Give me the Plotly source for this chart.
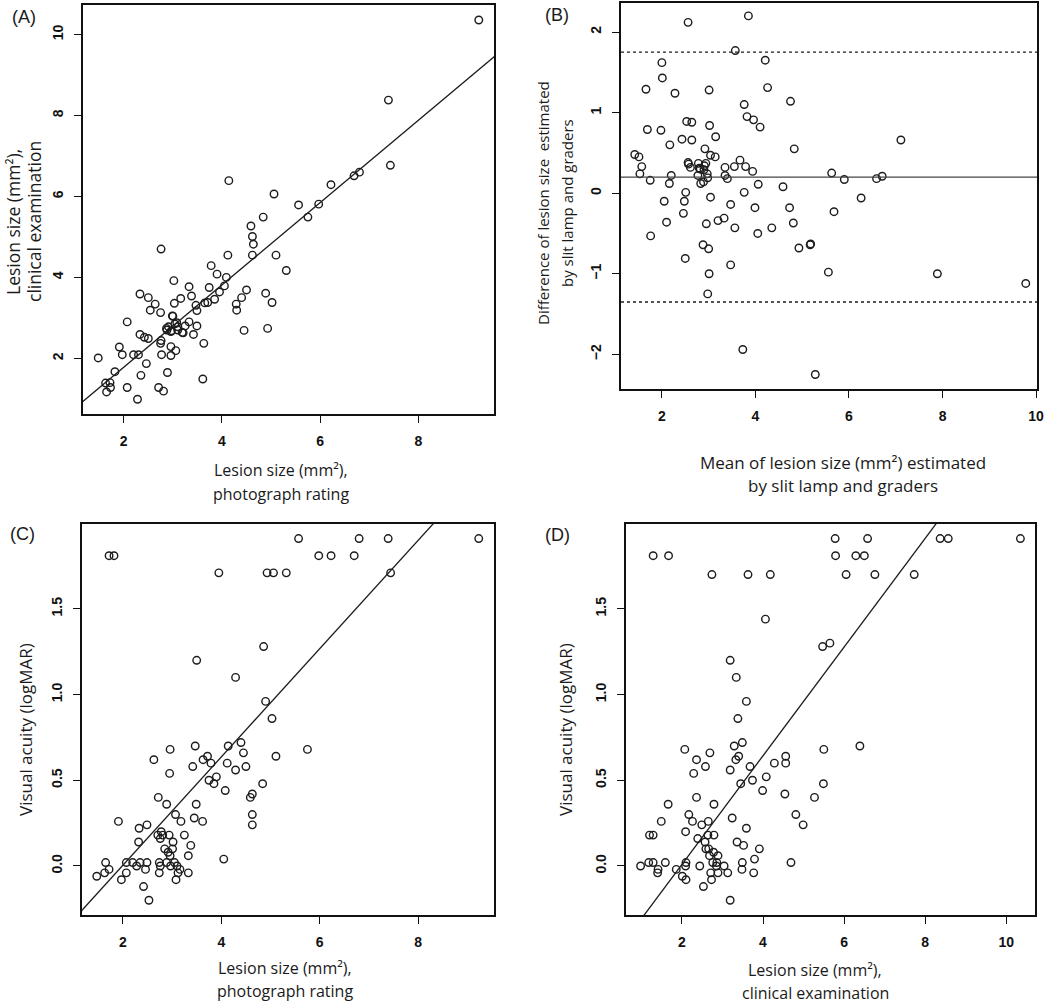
import plotly.graph_objects as go

# ---------------- Data ----------------
# Panel A: photograph rating (x) vs clinical examination (y)
a_x = [9.23, 7.39, 7.43, 6.80, 6.69, 6.22, 5.97, 5.56, 5.75, 5.06, 4.14, 4.84, 4.59, 4.62, 4.64,
       4.62, 5.10, 4.12, 5.31, 3.78, 3.90, 4.09, 4.05, 3.95, 3.74, 3.85, 3.71, 3.33, 3.38, 3.16,
       3.02, 3.03, 2.76, 2.33, 2.50, 2.64, 2.54, 2.75, 2.99, 3.47, 3.49, 4.50, 4.40, 4.29, 4.30,
       4.89, 5.02, 4.45, 4.93, 2.07, 3.33, 3.49, 3.25, 3.08, 3.10, 2.91, 2.87, 2.96, 3.19, 3.10,
       3.42, 3.63, 2.33, 2.42, 2.50, 2.76, 2.75, 2.96, 3.06, 2.96, 2.77, 1.91, 1.97, 2.20, 2.30,
       1.48, 2.46, 1.82, 2.89, 2.35, 3.61, 1.63, 1.72, 1.73, 2.07, 2.71, 1.65, 2.81, 2.28, 3.00,
       2.97, 3.21, 3.65, 2.88, 3.04]
a_y = [10.36, 8.38, 6.77, 6.60, 6.51, 6.29, 5.81, 5.79, 5.49, 6.06, 6.39, 5.49, 5.27, 5.01, 4.82,
       4.55, 4.55, 4.55, 4.17, 4.29, 4.08, 4.00, 3.79, 3.64, 3.75, 3.46, 3.38, 3.77, 3.54, 3.48,
       3.92, 3.36, 4.70, 3.59, 3.50, 3.34, 3.19, 3.13, 3.05, 3.31, 3.18, 3.69, 3.50, 3.34, 3.19,
       3.61, 3.38, 2.69, 2.74, 2.90, 2.90, 2.80, 2.80, 2.88, 2.78, 2.78, 2.74, 2.66, 2.64, 2.70,
       2.59, 2.37, 2.59, 2.52, 2.49, 2.44, 2.37, 2.29, 2.19, 2.07, 2.09, 2.28, 2.09, 2.09, 2.09,
       2.01, 1.87, 1.67, 1.65, 1.58, 1.49, 1.39, 1.40, 1.28, 1.28, 1.28, 1.17, 1.19, 0.99, 3.04,
       2.68, 2.63, 3.37, 2.70, 2.85]

# Panel B: Bland-Altman (mean vs difference)
b_x = [3.85, 2.56, 3.57, 2.00, 4.21, 2.01, 1.66, 2.28, 3.01, 4.26, 4.75, 3.76, 3.82, 3.96, 4.10,
       2.53, 2.64, 1.69, 1.98, 3.02, 3.15, 2.43, 2.64, 7.11, 2.17, 2.92, 4.83, 1.42, 1.51, 3.04,
       3.14, 3.67, 1.57, 1.53, 2.56, 2.57, 2.61, 2.78, 2.82, 2.91, 2.94, 3.35, 3.55, 3.79, 3.94,
       2.77, 2.97, 3.35, 3.40, 2.98, 2.20, 1.75, 2.16, 2.83, 2.89, 4.06, 5.63, 5.90, 6.59, 6.71,
       4.59, 2.51, 3.76, 3.04, 6.26, 2.05, 2.48, 3.47, 3.99, 4.73, 5.68, 2.46, 2.10, 3.20, 3.33,
       2.95, 4.81, 3.56, 4.35, 4.05, 1.76, 5.18, 5.17, 2.88, 4.93, 3.00, 2.50, 3.47, 5.56, 3.01,
       7.89, 9.78, 2.98, 3.73, 5.28, 2.80, 2.90]
b_y = [2.20, 2.12, 1.77, 1.62, 1.65, 1.43, 1.29, 1.24, 1.28, 1.31, 1.14, 1.10, 0.95, 0.91, 0.82,
       0.89, 0.88, 0.79, 0.78, 0.84, 0.70, 0.67, 0.66, 0.66, 0.60, 0.55, 0.55, 0.48, 0.45, 0.47,
       0.45, 0.41, 0.33, 0.24, 0.38, 0.36, 0.32, 0.37, 0.30, 0.34, 0.37, 0.32, 0.33, 0.33, 0.27,
       0.22, 0.24, 0.22, 0.18, 0.19, 0.22, 0.16, 0.12, 0.12, 0.14, 0.11, 0.25, 0.17, 0.18, 0.21,
       0.08, 0.01, 0.01, -0.05, -0.06, -0.10, -0.10, -0.14, -0.18, -0.18, -0.23, -0.25, -0.36, -0.34, -0.31,
       -0.38, -0.37, -0.43, -0.43, -0.50, -0.53, -0.63, -0.64, -0.64, -0.68, -0.69, -0.81, -0.89, -0.98, -1.00,
       -1.00, -1.12, -1.25, -1.94, -2.25, 0.31, 0.29]
b_mean = 0.20
b_limits = [1.75, -1.35]

# Panel C: photograph rating (x) vs visual acuity (y)
c_x = [9.23, 7.39, 6.80, 5.57, 1.72, 1.82, 5.98, 6.23, 6.70, 3.95, 4.93, 5.06, 5.32, 7.44, 4.86,
       3.50, 4.29, 4.90, 5.03, 4.40, 4.14, 3.47, 2.96, 5.75, 4.45, 2.63, 3.63, 3.72, 3.79, 4.12,
       5.11, 3.42, 4.50, 4.29, 2.95, 3.90, 3.75, 3.85, 4.84, 4.08, 4.63, 4.59, 2.72, 2.89, 3.49,
       3.07, 4.63, 3.45, 3.18, 3.62, 1.91, 2.49, 4.63, 2.33, 2.71, 2.78, 2.81, 2.94, 3.25, 2.76,
       2.32, 3.02, 3.38, 2.85, 3.01, 2.92, 2.96, 3.33, 4.05, 1.65, 2.07, 2.20, 2.35, 2.49, 2.74,
       2.89, 3.05, 2.28, 2.76, 2.97, 3.10, 1.72, 2.46, 3.16, 1.47, 1.63, 2.07, 2.74, 3.12, 3.33,
       1.97, 3.08, 2.42, 2.53]
c_y = [1.91, 1.91, 1.91, 1.91, 1.81, 1.81, 1.81, 1.81, 1.81, 1.71, 1.71, 1.71, 1.71, 1.71, 1.28,
       1.20, 1.10, 0.96, 0.86, 0.72, 0.70, 0.70, 0.68, 0.68, 0.66, 0.62, 0.62, 0.64, 0.60, 0.60,
       0.64, 0.58, 0.58, 0.56, 0.54, 0.52, 0.50, 0.48, 0.48, 0.44, 0.42, 0.40, 0.40, 0.36, 0.36,
       0.30, 0.30, 0.28, 0.26, 0.26, 0.26, 0.24, 0.24, 0.22, 0.18, 0.20, 0.18, 0.18, 0.18, 0.16,
       0.14, 0.14, 0.12, 0.10, 0.10, 0.08, 0.06, 0.06, 0.04, 0.02, 0.02, 0.02, 0.02, 0.02, 0.02,
       0.02, 0.02, 0.00, 0.00, 0.00, 0.00, -0.02, -0.02, -0.02, -0.06, -0.04, -0.04, -0.04, -0.04, -0.04,
       -0.08, -0.08, -0.12, -0.20]

# Panel D: clinical examination (x) vs visual acuity (y)
d_x = [10.35, 8.37, 8.57, 5.78, 6.58, 1.29, 1.67, 5.79, 6.29, 6.50, 2.74, 3.63, 4.18, 6.05, 6.76,
       7.73, 4.06, 5.47, 5.65, 3.19, 3.34, 3.59, 3.38, 6.39, 3.29, 3.49, 5.50, 2.07, 2.69, 3.40,
       3.33, 4.56, 2.36, 4.28, 4.56, 3.68, 2.58, 3.19, 4.08, 2.29, 3.74, 3.45, 5.49, 3.99, 4.54,
       2.36, 5.27, 1.66, 2.79, 2.17, 4.81, 3.24, 1.49, 2.26, 2.65, 2.49, 4.99, 3.59, 2.09, 1.20,
       1.29, 2.64, 2.79, 2.39, 2.57, 3.36, 3.52, 2.59, 2.66, 3.91, 2.78, 2.89, 2.68, 3.79, 1.18,
       1.29, 1.59, 2.10, 2.76, 2.86, 3.49, 4.69, 0.98, 2.09, 2.44, 2.85, 3.04, 1.41, 1.86, 3.48,
       1.40, 2.71, 2.89, 3.13, 3.77, 2.01, 2.10, 2.73, 2.53, 3.19]
d_y = [1.91, 1.91, 1.91, 1.91, 1.91, 1.81, 1.81, 1.81, 1.81, 1.81, 1.70, 1.70, 1.70, 1.70, 1.70,
       1.70, 1.44, 1.28, 1.30, 1.20, 1.10, 0.96, 0.86, 0.70, 0.70, 0.72, 0.68, 0.68, 0.66, 0.64,
       0.62, 0.64, 0.62, 0.60, 0.60, 0.58, 0.58, 0.56, 0.52, 0.54, 0.50, 0.48, 0.48, 0.44, 0.42,
       0.40, 0.40, 0.36, 0.36, 0.30, 0.30, 0.28, 0.26, 0.26, 0.26, 0.24, 0.24, 0.22, 0.20, 0.18,
       0.18, 0.18, 0.18, 0.16, 0.14, 0.14, 0.12, 0.10, 0.10, 0.10, 0.08, 0.06, 0.06, 0.04, 0.02,
       0.02, 0.02, 0.02, 0.02, 0.02, 0.02, 0.02, 0.00, 0.00, 0.00, 0.00, 0.00, -0.02, -0.02, -0.02,
       -0.04, -0.04, -0.04, -0.04, -0.04, -0.06, -0.08, -0.08, -0.12, -0.20]

# Regression lines: (intercept, slope)
fit_a = (-0.254, 1.017)
fit_c = (-0.628, 0.316)
fit_d = (-0.625, 0.317)

# Tick values
ticks_a_x = [2, 4, 6, 8]
ticks_a_y = [2, 4, 6, 8, 10]
ticks_b_x = [2, 4, 6, 8, 10]
ticks_b_y = [-2, -1, 0, 1, 2]
ticks_c_x = [2, 4, 6, 8]
ticks_cd_y = [0.0, 0.5, 1.0, 1.5]
ticks_d_x = [2, 4, 6, 8, 10]

# ---------------- Figure ----------------
W, H = 1050, 1003
INK = "#1c1c1c"

def dom_x(x0, x1):
    return [x0 / W, x1 / W]

def dom_y(top, bottom):
    return [1 - bottom / H, 1 - top / H]

marker = dict(symbol="circle-open", size=7.5, color=INK, line=dict(width=1.4, color=INK))

fig = go.Figure()

fig.add_trace(go.Scatter(x=a_x, y=a_y, mode="markers", marker=marker, xaxis="x", yaxis="y"))
fig.add_trace(go.Scatter(x=b_x, y=b_y, mode="markers", marker=marker, xaxis="x2", yaxis="y2"))
fig.add_trace(go.Scatter(x=c_x, y=c_y, mode="markers", marker=marker, xaxis="x3", yaxis="y3"))
fig.add_trace(go.Scatter(x=d_x, y=d_y, mode="markers", marker=marker, xaxis="x4", yaxis="y4"))

line_style = dict(color=INK, width=1.3)
for (b0, b1), xa, ya in [(fit_a, "x", "y"), (fit_c, "x3", "y3"), (fit_d, "x4", "y4")]:
    xs = [0, 12]
    fig.add_trace(go.Scatter(x=xs, y=[b0 + b1 * v for v in xs], mode="lines",
                             line=line_style, xaxis=xa, yaxis=ya, hoverinfo="skip"))

# Bland-Altman lines
fig.add_shape(type="line", xref="x2 domain", yref="y2", x0=0, x1=1, y0=b_mean, y1=b_mean,
              line=dict(color="#444444", width=1.2))
for lim in b_limits:
    fig.add_shape(type="line", xref="x2 domain", yref="y2", x0=0, x1=1, y0=lim, y1=lim,
                  line=dict(color=INK, width=1.4, dash="dot"))

tickfont = dict(family="Liberation Sans, Arial, sans-serif", size=14, color="#111111", weight="bold")

def xaxis(domain, rng, tv, anchor):
    return dict(domain=domain, range=rng, tickvals=tv, anchor=anchor, showline=True, mirror=True,
                linecolor="#111111", linewidth=1.6, ticks="outside", ticklen=7, tickwidth=1.3,
                tickcolor="#111111", showgrid=False, zeroline=False, tickfont=tickfont,
                ticklabelstandoff=6)

def yaxis(domain, rng, tv, anchor, fmt=None):
    d = dict(domain=domain, range=rng, tickvals=tv, anchor=anchor, showline=True, mirror=True,
             linecolor="#111111", linewidth=1.6, ticks="outside", ticklen=7, tickwidth=1.3,
             tickcolor="#111111", showgrid=False, zeroline=False, tickfont=tickfont,
             tickangle=-90, ticklabelstandoff=6)
    if fmt:
        d["tickformat"] = fmt
    return d

fig.update_layout(
    width=W, height=H, margin=dict(l=0, r=0, t=0, b=0, autoexpand=False),
    paper_bgcolor="white", plot_bgcolor="white", showlegend=False, hovermode=False,
    xaxis=xaxis(dom_x(83, 494), [1.17, 9.54], ticks_a_x, "y"),
    yaxis=yaxis(dom_y(5, 414), [0.625, 10.73], ticks_a_y, "x"),
    xaxis2=xaxis(dom_x(621, 1037), [1.126, 10.02], ticks_b_x, "y2"),
    yaxis2=yaxis(dom_y(3, 389), [-2.43, 2.36], ticks_b_y, "x2"),
    xaxis3=xaxis(dom_x(82, 494), [1.17, 9.54], ticks_c_x, "y3"),
    yaxis3=yaxis(dom_y(524, 915), [-0.286, 1.995], ticks_cd_y, "x3", ".1f"),
    xaxis4=xaxis(dom_x(626, 1035), [0.62, 10.71], ticks_d_x, "y4"),
    yaxis4=yaxis(dom_y(524, 915), [-0.286, 1.995], ticks_cd_y, "x4", ".1f"),
)

FAMILY = "Open Sans, Noto Sans, sans-serif"
def tfont(size):
    return dict(family=FAMILY, size=size, color="#1a1a1a")

label_font = dict(family="Liberation Sans, Arial, sans-serif", size=18, color="#1a1a1a")

def ann(text, px, py, font, angle=0):
    fig.add_annotation(text=text, x=px / W, y=1 - py / H, xref="paper", yref="paper",
                       showarrow=False, font=font, textangle=angle,
                       xanchor="center", yanchor="middle", align="center")

# panel labels
ann("(A)", 24, 17, label_font)
ann("(B)", 557, 15, label_font)
ann("(C)", 22, 534, label_font)
ann("(D)", 557, 535, label_font)

# x titles
ann("Lesion size (mm²),", 281, 470, tfont(16))
ann("photograph rating", 281, 494, tfont(16))
ann("Mean of lesion size (mm²) estimated", 843, 462, tfont(17))
ann("by slit lamp and graders", 843, 485, tfont(17))
ann("Lesion size (mm²),", 285, 968, tfont(16))
ann("photograph rating", 285, 991, tfont(16))
ann("Lesion size (mm²),", 815, 970, tfont(16))
ann("clinical examination", 815, 993, tfont(16))

# y titles (rotated)
ann("Lesion size (mm²),", 13, 222, tfont(17.5), -90)
ann("clinical examination", 34, 222, tfont(17.5), -90)
ann("Difference of lesion size  estimated", 543, 203, tfont(15), -90)
ann("by slit lamp and graders", 567, 203, tfont(15), -90)
ann("Visual acuity (logMAR)", 25, 730, tfont(17), -90)
ann("Visual acuity (logMAR)", 565, 730, tfont(17), -90)

fig.write_html("out.html", config={"displayModeBar": False},
               post_script="document.body.style.margin='0px';document.body.style.overflow='hidden';")
